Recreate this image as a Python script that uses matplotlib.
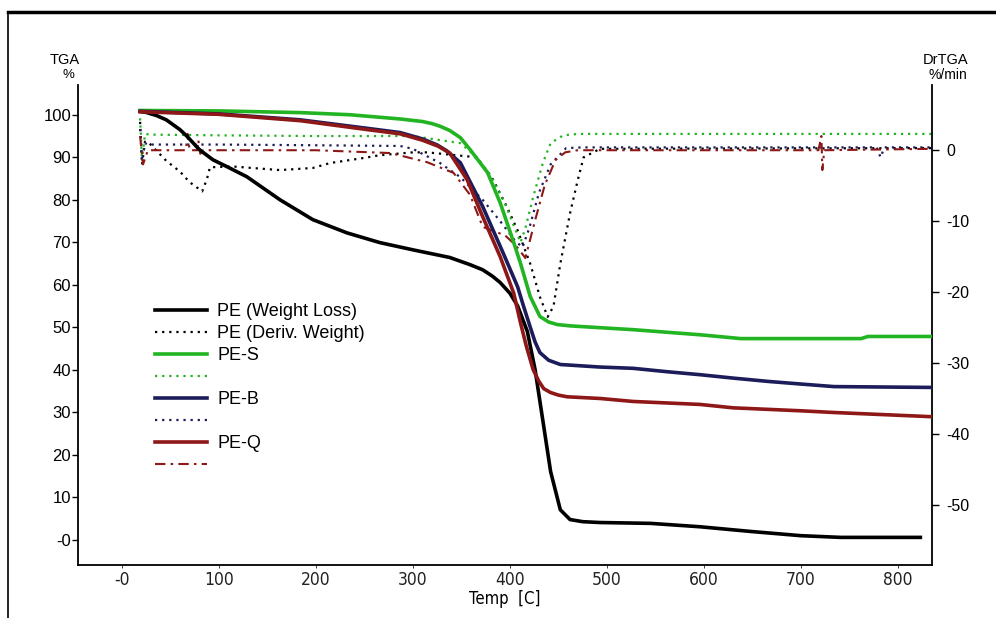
import matplotlib
matplotlib.use('Agg')
import matplotlib.pyplot as plt
from matplotlib.lines import Line2D

plt.rcParams['font.family'] = ['Liberation Sans', 'DejaVu Sans']

# TGA weight curves (left axis, %)
pe_t = [19, 26, 36, 46, 60, 67, 80, 94, 110, 129, 163, 197, 232, 266, 300, 338, 359, 372, 382, 390, 400, 408, 418, 426, 434, 442, 452, 462, 475, 493, 545, 596, 648, 700, 741, 823]
pe_w = [100.8, 100.5, 99.8, 98.8, 96.5, 95, 91.8, 89.4, 87.6, 85.4, 80, 75.3, 72.2, 69.9, 68.2, 66.4, 64.7, 63.5, 62, 60.5, 58, 55, 49, 40, 28, 16, 7, 4.7, 4.2, 4, 3.8, 3, 1.9, 0.9, 0.5, 0.5]

pes_t = [19, 100, 184, 235, 287, 310, 320, 328, 338, 349, 359, 377, 390, 403, 411, 421, 431, 440, 449, 462, 476, 527, 596, 638, 734, 762, 769, 836]
pes_w = [101, 100.9, 100.5, 100, 99, 98.4, 97.9, 97.3, 96.3, 94.6, 91.8, 86.4, 79.3, 70.6, 65, 57.2, 52.5, 51.2, 50.6, 50.3, 50.1, 49.4, 48.2, 47.3, 47.3, 47.3, 47.8, 47.8]

peb_t = [19, 100, 184, 253, 287, 310, 325, 335, 349, 372, 393, 408, 414, 421, 426, 431, 440, 452, 493, 527, 562, 596, 630, 667, 700, 734, 836]
peb_w = [100.8, 100.2, 98.8, 96.8, 95.8, 94.3, 92.9, 91.5, 88.7, 78.4, 67.5, 59.5, 55, 50, 46.5, 44, 42.2, 41.2, 40.6, 40.3, 39.5, 38.8, 38, 37.2, 36.6, 36, 35.8]

peq_t = [19, 100, 184, 253, 287, 310, 326, 338, 356, 372, 390, 404, 411, 417, 424, 430, 435, 442, 450, 459, 493, 527, 596, 630, 700, 734, 836]
peq_w = [100.7, 100.1, 98.6, 96.5, 95.5, 94, 92.6, 91, 84.7, 76, 66.6, 58, 51, 45.5, 40, 37.2, 35.5, 34.6, 34, 33.6, 33.2, 32.5, 31.8, 31, 30.3, 29.9, 28.9]

# derivative curves (right axis, %/min)
ped_t = [19, 21, 24, 27, 46, 60, 70, 83, 88, 91, 115, 163, 197, 215, 249, 266, 300, 315, 366, 383, 397, 408, 421, 431, 439, 445, 452, 462, 470, 476, 493, 836]
ped_d = [4, -2, 1.2, 1.2, -1.5, -3, -4.5, -5.8, -4, -2.4, -2.3, -2.8, -2.5, -1.8, -1.1, -0.7, -0.3, -0.3, -1, -4.2, -8, -11.3, -16, -20.7, -23.5, -22, -16, -8.9, -4.2, -1, 0.2, 0.3]

pesd_t = [19, 21, 24, 30, 100, 200, 300, 349, 366, 380, 395, 405, 411, 416, 424, 434, 442, 455, 470, 836]
pesd_d = [4.5, -1.5, 2.3, 2.2, 2.1, 2.0, 2.0, 1.0, -1, -3.5, -7.5, -11, -13, -11, -6.6, -1.8, 1, 2.1, 2.3, 2.3]

pebd_t = [19, 21, 24, 27, 100, 200, 287, 300, 328, 349, 372, 390, 405, 413, 420, 430, 442, 458, 475, 778, 782, 786, 836]
pebd_d = [3, -1.5, 1.0, 0.8, 0.8, 0.7, 0.6, 0.2, -1.8, -3.8, -7, -10, -12.7, -13.7, -11, -6, -2, 0.3, 0.4, 0.4, -1, 0.4, 0.4]

peqd_t = [19, 22, 27, 66, 68, 70, 78, 79, 81, 84, 200, 277, 315, 342, 359, 372, 385, 395, 406, 416, 426, 436, 447, 457, 470, 718, 721, 722, 724, 836]
peqd_d = [2, -2, 0, 0, 2.3, 0, 0, 1.4, -0.5, 0, 0, -0.4, -1.7, -3.2, -6.3, -10.8, -11.5, -12, -13.4, -15.2, -9.9, -4.9, -1.4, -0.3, 0, 0, 2, -2.8, 0, 0.2]

x_ticks = [0, 100, 200, 300, 400, 500, 600, 700, 800]
x_labels = ['-0', '100', '200', '300', '400', '500', '600', '700', '800']
y_ticks = [0, 10, 20, 30, 40, 50, 60, 70, 80, 90, 100]
y_labels = ['-0', '10', '20', '30', '40', '50', '60', '70', '80', '90', '100']
y2_ticks = [0, -10, -20, -30, -40, -50]

c_green = '#22b422'
c_navy = '#1c1c5a'
c_red = '#8e1818'

fig = plt.figure(figsize=(9.96, 6.18), dpi=100)
ax = fig.add_axes([78 / 996, 1 - 565 / 618, (932 - 78) / 996, (565 - 85) / 618])
ax2 = ax.twinx()

dot = (0, (1, 2.2))
ld_black_dot, = ax2.plot(ped_t, ped_d, color='black', lw=1.6, ls=dot)
ld_green_dot, = ax2.plot(pesd_t, pesd_d, color=c_green, lw=1.6, ls=dot)
ld_navy_dot, = ax2.plot(pebd_t, pebd_d, color=c_navy, lw=1.6, ls=dot)
ld_red_dd, = ax2.plot(peqd_t, peqd_d, color=c_red, lw=1.5, ls=(0, (5, 2.5, 1.2, 2.5)))

l_black, = ax.plot(pe_t, pe_w, color='black', lw=2.6)
l_green, = ax.plot(pes_t, pes_w, color=c_green, lw=2.6)
l_navy, = ax.plot(peb_t, peb_w, color=c_navy, lw=2.6)
l_red, = ax.plot(peq_t, peq_w, color=c_red, lw=2.6)
ax.set_zorder(ax2.get_zorder() + 1)
ax.patch.set_visible(False)

ax.set_xlim(-45, 835)
ax.set_ylim(-6, 107)
ax2.set_ylim(-58.5, 9.2)

for a in (ax, ax2):
    a.spines['top'].set_visible(False)
ax.spines['right'].set_visible(False)
ax2.spines['left'].set_visible(False)
ax2.spines['bottom'].set_visible(False)
for s in ('left', 'bottom'):
    ax.spines[s].set_linewidth(1.3)
ax2.spines['right'].set_linewidth(1.3)

ax.set_xticks(x_ticks)
ax.set_xticklabels(x_labels, family='DejaVu Sans', stretch='condensed', fontsize=12.5)
ax.tick_params(axis='x', length=2, width=0.6, pad=2, colors='#222222')
ax.set_yticks(y_ticks)
ax.set_yticklabels(y_labels, fontsize=12)
ax.tick_params(axis='y', length=4, width=1.0, pad=1)
ax2.set_yticks(y2_ticks)
ax2.set_yticklabels([str(v) for v in y2_ticks], fontsize=11.5)
ax2.tick_params(axis='y', length=5, width=1.0, pad=5)

fig.text(65 / 996, 1 - 60 / 618, 'TGA', ha='center', va='center', fontsize=10.5)
fig.text(68 / 996, 1 - 75 / 618, '%', ha='center', va='center', fontsize=9.5)
fig.text(946 / 996, 1 - 60 / 618, 'DrTGA', ha='center', va='center', fontsize=10.5)
fig.text(948 / 996, 1 - 75 / 618, '%/min', ha='center', va='center', fontsize=10)
fig.text(505 / 996, 1 - 599 / 618, 'Temp  [C]', ha='center', va='center', fontsize=12,
         family='DejaVu Sans', stretch='condensed')

handles = [l_black, ld_black_dot, l_green, ld_green_dot, l_navy, ld_navy_dot, l_red, ld_red_dd]
labels = ['PE (Weight Loss)', 'PE (Deriv. Weight)', 'PE-S', '', 'PE-B', '', 'PE-Q', '']
leg = fig.legend(handles, labels, loc='upper left', bbox_to_anchor=(155 / 996, 1 - 303 / 618),
                 frameon=False, fontsize=13, handlelength=2.9, handletextpad=0.55,
                 labelspacing=0.28, borderpad=0, borderaxespad=0)

# outer frame of the picture
fig.add_artist(Line2D([8 / 996, 1], [1 - 12 / 618, 1 - 12 / 618], color='black', lw=2.5, transform=fig.transFigure))
fig.add_artist(Line2D([8 / 996, 8 / 996], [0, 1 - 12 / 618], color='black', lw=1.2, transform=fig.transFigure))

fig.savefig('out.png', dpi=100)
